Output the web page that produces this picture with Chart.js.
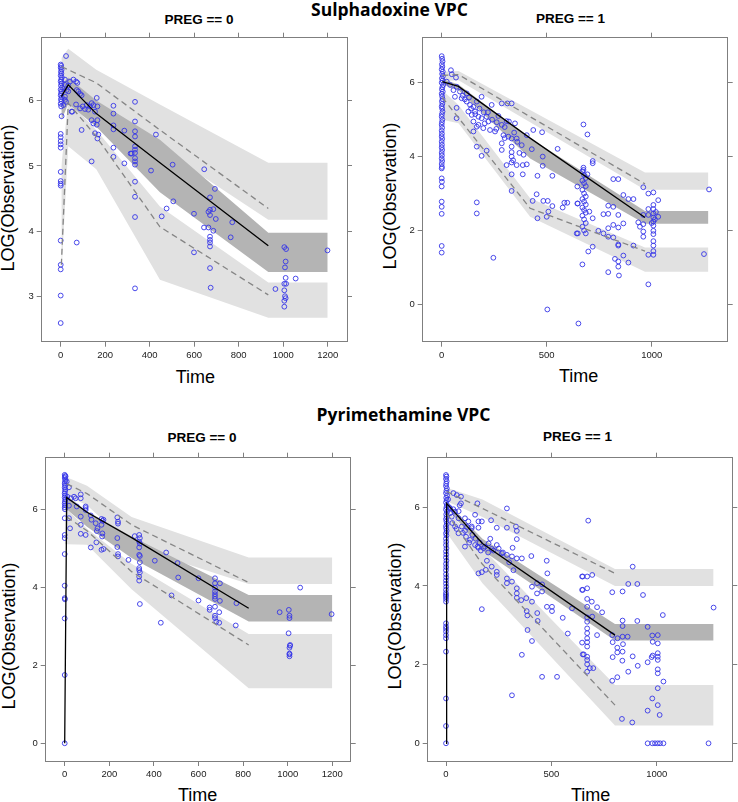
<!DOCTYPE html>
<html><head><meta charset="utf-8">
<script src="https://cdn.jsdelivr.net/npm/chart.js@4.4.1/dist/chart.umd.min.js"></script>
<style>
html,body{margin:0;padding:0;background:#fff;}
body{width:738px;height:802px;position:relative;overflow:hidden;}
canvas{position:absolute;}
.t{position:absolute;transform:translate(-50%,-50%);white-space:nowrap;line-height:1;color:#000;}
.main{font-family:'Open Sans',sans-serif;font-weight:700;font-size:17.5px;}
.sub{font-family:'Liberation Sans',Arial,sans-serif;font-weight:700;font-size:13.5px;}
.ax{font-family:'Liberation Sans',Arial,sans-serif;font-size:18px;}
.rot{transform:translate(-50%,-50%) rotate(-90deg);}
</style></head><body>
<div class="t main" style="left:389.5px;top:9.5px">Sulphadoxine VPC</div>
<div class="t main" style="left:403.5px;top:414.5px">Pyrimethamine VPC</div>
<div class="t sub" style="left:199px;top:20px">PREG == 0</div>
<div class="t sub" style="left:570.5px;top:18.5px">PREG == 1</div>
<div class="t sub" style="left:202px;top:437.5px">PREG == 0</div>
<div class="t sub" style="left:577.5px;top:436.5px">PREG == 1</div>
<div class="t ax" style="left:195.3px;top:376.5px">Time</div>
<div class="t ax" style="left:578.7px;top:375.5px">Time</div>
<div class="t ax" style="left:197.7px;top:794.5px">Time</div>
<div class="t ax" style="left:590.7px;top:794.5px">Time</div>
<div class="t ax rot" style="left:8px;top:197.5px">LOG(Observation)</div>
<div class="t ax rot" style="left:389.8px;top:195.8px">LOG(Observation)</div>
<div class="t ax rot" style="left:8.5px;top:636px">LOG(Observation)</div>
<div class="t ax rot" style="left:394.8px;top:615.8px">LOG(Observation)</div>
<canvas id="c1" width="369" height="400" style="left:0;top:0"></canvas>
<canvas id="c2" width="369" height="400" style="left:369px;top:0"></canvas>
<canvas id="c3" width="369" height="402" style="left:0;top:400px"></canvas>
<canvas id="c4" width="369" height="402" style="left:369px;top:400px"></canvas>
<script>
// ---------- Sulphadoxine, PREG == 0 ----------
const s0XTicks = [0,200,400,600,800,1000,1200];
const s0YTicks = [3,4,5,6];
const s0BandX   = [3, 34, 160, 446, 933, 1200];
const s0PiUpHi  = [6.65, 6.79, 6.47, 5.94, 5.05, 5.05];
const s0PiUpLo  = [6.10, 6.25, 5.95, 5.27, 4.18, 4.18];
const s0PiMedHi = [6.25, 6.35, 6.00, 5.40, 3.98, 3.98];
const s0PiMedLo = [5.70, 5.95, 5.60, 4.60, 3.38, 3.38];
const s0PiLowHi = [5.00, 6.00, 5.55, 4.38, 3.22, 3.22];
const s0PiLowLo = [3.35, 5.30, 4.95, 3.26, 2.68, 2.68];
const s0LineX   = [3, 34, 160, 446, 933];
const s0ObsHi   = [6.52, 6.47, 6.27, 5.55, 4.35];
const s0ObsMed  = [6.06, 6.24, 5.80, 5.05, 3.78];
const s0ObsLo   = [3.49, 5.96, 5.45, 4.07, 3.03];
const s0Obs = [[0,6.55],[2,6.53],[0,6.5],[4,6.47],[1,6.44],[3,6.41],[0,6.38],[5,6.35],[2,6.32],[0,6.29],[4,6.26],[1,6.23],[6,6.2],[0,6.17],[3,6.14],[2,6.11],[0,6.08],[5,6.05],[1,6.02],[3,5.99],[0,5.95],[2,5.91],[4,5.76],[0,5.49],[0,5.44],[0,5.38],[0,5.33],[0,5.28],[0,4.91],[0,4.77],[0,4.73],[0,4.7],[0,3.86],[0,3.49],[0,3.42],[0,3.02],[0,2.6],
[24,6.68],[19,6.32],[42,6.29],[57,6.32],[69,6.29],[19,6.24],[27,6.16],[34,6.14],[19,6.06],[19,6.01],[24,5.98],[12,5.93],[49,5.83],[69,5.94],[72,6.16],[79,6.14],[87,6.1],[94,6.08],[94,5.55],[72,3.83],[34,6.23],[75,6.27],[52,5.83],
[87,5.88],[99,5.91],[109,5.87],[117,5.93],[124,5.86],[132,5.91],[139,5.96],[147,5.93],[162,6.04],[165,5.91],[154,5.83],[139,5.7],[147,5.65],[165,5.7],[162,5.63],[154,5.5],[169,5.48],[165,5.42],[139,5.07],
[237,5.92],[237,5.8],[237,5.56],[237,5.62],[237,5.28],[237,5.14],[286,5.04],[286,5.54],
[334,5.98],[334,5.68],[334,5.53],[334,5.45],[334,5.3],[334,5.25],[334,5.2],[314,5.19],[334,5.12],[334,5.07],[334,5.02],[334,4.76],[334,4.53],[334,4.22],[334,3.13],[319,5.19],
[428,5.48],[406,4.93],[503,5.02],[476,4.35],[506,4.46],[454,4.23],[599,4.27],[599,3.68],
[645,4.95],[693,4.65],[671,4.52],[671,4.33],[686,4.34],[664,4.3],[671,4.25],[697,4.19],[644,4.06],[664,4.06],[686,4.01],[671,3.92],[671,3.87],[671,3.83],[671,3.77],[771,4.14],[764,3.91],[671,3.44],[674,3.14],
[1005,3.76],[1013,3.73],[1011,3.54],[1008,3.45],[1011,3.29],[1005,3.2],[1013,3.2],[1056,3.28],[965,3.12],[1005,3.1],[1008,3.01],[1011,2.98],[1005,2.94],[1005,2.85],[1199,3.71]];

// ---------- Sulphadoxine, PREG == 1 ----------
const s1XTicks = [0,500,1000];
const s1YTicks = [0,2,4,6];
const s1BandX   = [3, 80, 421, 968, 1270];
const s1PiUpHi  = [6.30, 6.32, 5.26, 3.57, 3.57];
const s1PiUpLo  = [6.05, 6.07, 4.93, 3.10, 3.10];
const s1PiMedHi = [6.10, 5.95, 4.50, 2.53, 2.53];
const s1PiMedLo = [5.95, 5.80, 3.95, 2.18, 2.18];
const s1PiLowHi = [5.80, 5.40, 2.87, 1.54, 1.54];
const s1PiLowLo = [5.00, 4.90, 2.37, 0.88, 0.88];
const s1LineX   = [3, 80, 421, 968];
const s1ObsHi   = [6.20, 6.22, 5.08, 3.26];
const s1ObsMed  = [6.03, 5.90, 4.50, 2.35];
const s1ObsLo   = [5.60, 5.05, 2.60, 1.44];
const s1Obs = [[0,6.72],[2,6.65],[4,6.58],[1,6.5],[3,6.43],[0,6.36],[5,6.3],[2,6.24],[6,6.18],[1,6.12],[4,6.06],[0,6.0],[7,5.94],[3,5.88],[1,5.82],[5,5.76],[0,5.7],[2,5.63],[4,5.56],[1,5.5],[3,5.43],[0,5.36],[2,5.3],[4,5.22],[1,5.15],[0,5.08],[3,5.0],[1,4.93],[0,4.86],[2,4.78],[0,4.7],[1,4.62],[0,4.55],[2,4.48],[0,4.4],[1,4.32],[0,4.25],[2,4.18],[0,4.1],[1,4.03],[0,3.95],[2,3.88],[0,3.8],[1,3.72],[0,3.68],[0,3.41],[1,3.32],[0,3.19],[0,2.78],[0,2.64],[0,2.45],[0,1.58],[0,1.4],
[44,6.34],[68,6.14],[48,6.23],[24,6.03],[40,5.94],[71,5.89],[56,5.8],[87,5.76],[119,5.71],[63,5.62],[95,5.58],[71,5.32],[119,5.49],[135,5.4],[151,5.35],[167,5.49],[190,5.62],[127,5.22],[143,5.13],[159,5.22],[175,5.08],[151,4.95],[190,5.04],[214,5.08],[238,5.4],[286,5.44],[313,5.44],[333,5.44],[309,4.96],[349,4.9],[222,4.95],[262,4.93],[286,4.86],[175,4.86],[198,4.77],[230,4.72],[254,4.68],[151,4.68],[167,4.81],[294,4.58],[317,4.54],[333,4.49],[357,4.49],[381,4.31],[405,4.58],[436,4.72],[478,4.66],[552,4.21],[286,4.36],[286,4.18],[190,4.02],[214,4.16],[167,4.27],[333,4.27],[333,4.12],[333,4.0],[333,3.84],[309,3.77],[357,3.77],[386,3.77],[405,3.79],[333,3.52],[386,3.52],[456,3.48],[527,3.48],[429,4.2],[481,4.0],[481,3.75],[71,5.04],[167,2.76],[167,2.46],[246,1.26],[333,3.07],[452,2.98],[433,2.8],[456,2.33],[484,2.8],[505,2.8],[527,2.66],[508,2.51],[500,2.37],[576,2.62],[584,2.75],[598,2.75],[648,2.73],[648,1.92],[503,-0.14],[651,-0.52],
[100,5.65],[110,5.55],[130,5.6],[140,5.3],[160,5.15],[180,5.3],[200,5.2],[205,4.9],[220,5.2],[240,5.0],[260,4.75],[270,5.1],[300,4.8],[320,4.95],[345,4.65],[360,4.4],[370,4.1],[390,4.05],[340,3.9],[300,4.5],
[675,4.87],[694,4.6],[719,3.88],[719,3.82],[675,3.7],[675,3.64],[694,3.52],[670,3.6],[678,3.5],[686,3.42],[670,3.35],[678,3.28],[686,3.2],[670,3.1],[678,3.0],[686,2.92],[670,2.85],[678,2.78],[686,2.7],[670,2.62],[678,2.55],[686,2.48],[670,2.4],[678,2.3],[686,2.2],[670,2.1],[678,2.0],[686,1.92],[646,3.19],[646,2.73],[703,2.51],[719,2.33],[698,1.43],[719,1.56],[670,1.08],[643,1.92],
[817,3.39],[841,3.39],[865,2.96],[889,2.85],[913,2.85],[793,2.67],[817,2.64],[770,2.44],[793,2.45],[841,2.42],[865,2.19],[817,2.15],[841,2.08],[793,2.06],[770,1.92],[746,1.99],[793,1.83],[817,1.81],[841,1.62],[841,1.59],[913,1.59],[865,1.32],[825,1.23],[841,1.16],[841,1.02],[889,1.13],[793,0.87],[844,0.78],
[960,3.17],[984,3.0],[1008,3.03],[1031,2.82],[984,2.58],[1008,2.58],[960,2.42],[984,2.42],[1008,2.46],[1008,2.35],[1031,2.37],[936,2.22],[960,2.17],[1008,2.24],[1008,2.13],[944,2.1],[960,1.97],[1008,1.99],[960,1.83],[1008,1.9],[1008,1.71],[1008,1.59],[1008,1.44],[984,1.34],[1008,1.34],[984,0.54],[1249,1.36],[1273,3.11],[1008,2.69],[1020,2.5],[1015,2.3],[1000,2.2]];

// ---------- Pyrimethamine, PREG == 0 ----------
const p0XTicks = [0,200,400,600,800,1000,1200];
const p0YTicks = [0,2,4,6];
const p0BandX   = [0, 9, 100, 300, 825, 1200];
const p0PiUpHi  = [6.82, 6.82, 6.60, 5.80, 4.76, 4.76];
const p0PiUpLo  = [6.35, 6.35, 6.10, 5.05, 4.08, 4.08];
const p0PiMedHi = [6.35, 6.35, 5.95, 5.30, 3.80, 3.80];
const p0PiMedLo = [6.00, 6.00, 5.55, 4.75, 3.12, 3.12];
const p0PiLowHi = [6.00, 6.00, 5.50, 4.60, 2.80, 2.80];
const p0PiLowLo = [5.10, 5.10, 5.09, 3.95, 1.41, 1.41];
const p0DashX   = [9, 100, 300, 825];
const p0ObsHi   = [6.65, 6.40, 5.60, 4.12];
const p0ObsLo   = [5.80, 5.45, 4.40, 2.52];
const p0MedX    = [0, 9, 100, 300, 825];
const p0ObsMed  = [0, 6.30, 5.92, 5.27, 3.46];
const p0Obs = [[0,6.88],[2,6.85],[0,6.8],[3,6.75],[1,6.7],[0,6.65],[2,6.6],[0,6.55],[3,6.5],[1,6.45],[0,6.4],[2,6.35],[0,6.3],[3,6.25],[1,6.2],[0,6.15],[2,6.1],[0,6.05],[1,6.0],[0,5.77],[0,5.34],[0,5.26],[0,4.85],[0,4.04],[0,3.72],[1,3.69],[0,3.2],[0,1.75],[0,0],
[4,6.84],[9,6.71],[19,6.56],[12,6.32],[27,6.28],[42,6.32],[49,6.28],[72,6.38],[72,6.28],[19,6.09],[54,6.07],[19,5.77],[24,5.51],[72,5.81],[72,5.6],[72,5.37],[94,5.34],[94,6.03],[94,5.98],[94,6.07],[117,5.84],[120,5.73],[139,5.64],[147,5.51],[144,5.44],[165,5.75],[174,5.73],[165,5.6],[169,5.38],[117,5.02],[142,5.15],[165,4.96],[174,4.98],[170,5.7],[168,5.3],
[236,5.79],[239,5.68],[239,5.63],[236,5.26],[236,5.03],[239,4.85],[239,4.79],[286,4.7],[314,5.31],
[334,5.34],[337,5.26],[334,5.17],[337,5.12],[334,5.02],[334,4.83],[337,4.8],[337,4.64],[334,4.49],[334,4.44],[337,4.38],[334,4.27],[334,4.17],[337,3.57],[404,4.68],[455,4.89],[431,3.09],[479,3.79],[506,4.62],[509,4.25],[600,4.23],[600,3.66],
[674,4.23],[696,4.1],[674,4.1],[674,3.99],[674,3.89],[674,3.82],[674,3.76],[674,3.7],[696,3.65],[650,3.48],[650,3.42],[674,3.5],[693,3.36],[674,3.27],[674,3.21],[680,3.12],[693,3.09],[770,3.59],[767,3.02],
[1056,3.99],[964,3.36],[1005,3.42],[1008,3.27],[1008,3.21],[1197,3.31],[1004,2.82],[1011,2.52],[1008,2.45],[1008,2.28],[1008,2.23],[1010,2.5],[1008,2.3]];

// ---------- Pyrimethamine, PREG == 1 ----------
const p1XTicks = [0,500,1000];
const p1YTicks = [0,2,4,6];
const p1BandX   = [0, 3, 173, 802, 1270];
const p1PiUpHi  = [6.50, 6.50, 6.20, 4.43, 4.43];
const p1PiUpLo  = [6.15, 6.15, 5.75, 4.00, 4.00];
const p1PiMedHi = [6.15, 6.15, 5.20, 3.03, 3.03];
const p1PiMedLo = [6.00, 6.00, 4.90, 2.61, 2.61];
const p1PiLowHi = [5.95, 5.95, 4.96, 1.48, 1.48];
const p1PiLowLo = [5.35, 5.35, 4.07, 0.45, 0.45];
const p1DashX   = [3, 173, 802];
const p1ObsHi   = [6.40, 5.97, 4.32];
const p1ObsLo   = [5.85, 4.55, 0.97];
const p1MedX    = [0, 3, 173, 802];
const p1ObsMed  = [0, 6.10, 5.08, 2.75];
const p1Obs = [[0,6.82],[2,6.78],[0,6.72],[3,6.66],[1,6.6],[0,6.54],[4,6.48],[2,6.42],[0,6.36],[5,6.3],[1,6.24],[3,6.18],[0,6.12],[4,6.06],[2,6.0],[0,5.94],[5,5.88],[1,5.82],[3,5.76],[0,5.7],[2,5.64],[4,5.58],[0,5.52],[1,5.46],[3,5.4],[0,5.34],[2,5.28],[0,5.2],[1,5.12],[0,5.04],[2,4.96],[0,4.88],[1,4.8],[0,4.72],[2,4.64],[0,4.56],[1,4.48],[0,4.4],[0,4.3],[1,4.22],[0,4.14],[0,4.06],[1,3.98],[0,3.9],[0,3.82],[0,3.77],[0,3.73],[0,3.67],[0,3.6],[0,3.05],[0,2.97],[0,2.91],[0,2.84],[0,2.75],[0,2.67],[0,2.33],[0,1.14],[0,0.44],[0,0],
[35,6.36],[51,6.31],[71,6.27],[71,6.1],[149,6.1],[19,5.97],[43,5.89],[27,5.76],[59,5.72],[90,5.72],[138,5.81],[43,5.51],[75,5.51],[106,5.64],[122,5.51],[154,5.64],[170,5.64],[59,5.34],[90,5.4],[122,5.47],[154,5.48],[214,5.67],[241,5.48],[289,5.97],[289,5.48],[332,5.51],[336,5.4],[336,5.19],[316,4.97],[90,5.0],[114,5.17],[138,5.04],[154,4.97],[178,4.96],[202,5.08],[217,4.94],[241,5.04],[265,4.83],[289,4.79],[313,4.75],[336,4.7],[360,4.7],[405,4.76],[478,4.64],[194,4.64],[217,4.49],[241,4.36],[241,4.28],[289,4.19],[289,4.07],[154,4.32],[170,4.35],[189,4.41],[313,4.11],[336,3.94],[336,3.81],[336,3.7],[357,3.64],[381,3.69],[408,3.98],[432,4.07],[456,4.04],[456,3.86],[481,4.32],[432,3.81],[479,3.47],[503,3.47],[503,3.36],[408,3.6],[383,3.36],[386,3.25],[433,3.31],[435,3.11],[387,2.88],[408,2.6],[360,2.25],[456,1.69],[527,1.69],[313,1.22],[170,3.41],[554,3.19],[578,2.79],[598,3.43],[649,4.24],[649,3.9],[646,2.56],[649,2.26],
[10,6.2],[15,6.0],[20,5.85],[30,5.6],[35,5.95],[50,5.45],[60,5.9],[65,6.05],[80,5.35],[95,5.25],[100,5.5],[110,5.1],[125,5.3],[140,5.2],[150,5.0],[160,5.1],[165,4.9],[185,5.0],[200,4.85],[210,5.2],[225,4.9],[250,4.95],[270,4.85],[300,4.6],[320,4.4],
[675,5.66],[646,4.24],[670,4.24],[694,4.28],[646,3.9],[670,3.94],[670,3.67],[692,3.6],[670,3.47],[717,3.46],[741,3.33],[670,3.2],[694,3.22],[670,3.09],[670,2.92],[670,2.8],[717,2.75],[670,2.67],[670,2.57],[670,2.46],[654,2.26],[670,2.2],[670,2.12],[670,2.01],[683,1.91],[699,1.91],[670,1.82],
[886,4.49],[865,4.05],[908,4.05],[789,3.84],[838,3.86],[935,3.77],[908,3.11],[838,3.12],[838,2.98],[957,2.96],[789,2.75],[814,2.67],[838,2.71],[862,2.71],[791,2.57],[840,2.52],[813,2.43],[813,2.31],[838,2.33],[791,2.19],[837,2.1],[886,2.21],[910,1.97],[865,1.82],[789,1.59],[813,1.68],[835,0.62],[884,0.53],
[979,2.74],[1005,2.75],[1005,2.54],[981,2.58],[1029,3.26],[957,2.06],[976,2.19],[981,2.23],[1005,2.29],[1005,2.2],[1005,2.12],[1005,1.88],[1005,1.78],[1005,1.4],[1032,1.57],[979,1.14],[957,0.83],[1005,0.97],[1014,0.72],[957,0],[979,0],[992,0],[1005,0],[1016,0],[1032,0],[1246,0],[1270,3.45]];

// ---------- rendering ----------
const LIGHT = '#e1e1e1', DARK = '#b4b4b4', BLUE = '#3535e8', FRAME = '#7f7f7f';
const FONT = "'Liberation Sans', Arial, sans-serif";

function series(xs, ys, extra) {
  return Object.assign({
    type: 'line', data: xs.map((x, i) => ({x: x, y: ys[i]})),
    pointRadius: 0, pointHoverRadius: 0, tension: 0, fill: false
  }, extra);
}
const edge = (o) => Object.assign({borderWidth: 0, borderColor: 'rgba(0,0,0,0)'}, o);

function panel(id, p) {
  const W = p.W, H = p.H, A = p.area;
  const axis = (pos, labels, min, max, ticks) => ({
    type: 'linear', position: pos, min: min, max: max,
    afterBuildTicks: s => { s.ticks = ticks.map(v => ({value: v})); },
    afterFit: s => {
      if (pos === 'bottom') s.height = H - A.B;
      else if (pos === 'top') s.height = A.T;
      else if (pos === 'left') s.width = A.L;
      else s.width = W - A.R;
    },
    ticks: {display: labels, font: {family: FONT, size: 9.5}, color: '#222',
            padding: 3, maxRotation: 0, autoSkip: false, callback: v => String(v)},
    grid: {drawOnChartArea: false, drawTicks: true, tickLength: 5, color: FRAME, lineWidth: 1},
    border: {display: true, color: FRAME, width: 1}
  });
  const datasets = [
    series(p.bx, p.upHi, edge({fill: '+1', backgroundColor: LIGHT, order: 10})),
    series(p.bx, p.upLo, edge({order: 10})),
    series(p.bx, p.lowHi, edge({fill: '+1', backgroundColor: LIGHT, order: 10})),
    series(p.bx, p.lowLo, edge({order: 10})),
    series(p.bx, p.medHi, edge({fill: '+1', backgroundColor: DARK, order: 9})),
    series(p.bx, p.medLo, edge({order: 9})),
    {type: 'scatter', data: p.obs.map(o => ({x: o[0], y: o[1]})), pointStyle: 'circle',
     pointRadius: 2.4, pointHoverRadius: 2.4, pointBorderWidth: 0.9, borderWidth: 0.9,
     pointBorderColor: BLUE, borderColor: BLUE,
     pointBackgroundColor: 'rgba(0,0,0,0)', backgroundColor: 'rgba(0,0,0,0)', order: 5},
    series(p.dx, p.hi, {borderColor: '#858585', borderWidth: 1.3, borderDash: [6, 4], order: 2}),
    series(p.dx, p.lo, {borderColor: '#858585', borderWidth: 1.3, borderDash: [6, 4], order: 2}),
    series(p.mx, p.med, {borderColor: '#000', borderWidth: 1.3, order: 1})
  ];
  new Chart(document.getElementById(id), {
    type: 'scatter',
    data: {datasets: datasets},
    options: {
      responsive: false, animation: false, devicePixelRatio: 1, events: [],
      layout: {padding: 0},
      plugins: {legend: {display: false}, tooltip: {enabled: false}, title: {display: false}},
      scales: {
        x: axis('bottom', true, p.xr[0], p.xr[1], p.xt),
        x2: axis('top', false, p.xr[0], p.xr[1], p.xt),
        y: axis('left', true, p.yr[0], p.yr[1], p.yt),
        y2: axis('right', false, p.yr[0], p.yr[1], p.yt)
      }
    }
  });
}

panel('c1', {W: 369, H: 400, area: {L: 41.7, T: 37.7, R: 347, B: 341.7},
  xr: [-85.4, 1286.7], yr: [2.315, 6.96], xt: s0XTicks, yt: s0YTicks,
  bx: s0BandX, upHi: s0PiUpHi, upLo: s0PiUpLo, medHi: s0PiMedHi, medLo: s0PiMedLo, lowHi: s0PiLowHi, lowLo: s0PiLowLo,
  dx: s0LineX, hi: s0ObsHi, lo: s0ObsLo, mx: s0LineX, med: s0ObsMed, obs: s0Obs});
panel('c2', {W: 369, H: 400, area: {L: 53.7, T: 37.7, R: 358.7, B: 341.7},
  xr: [-90.5, 1361.9], yr: [-1.013, 7.22], xt: s1XTicks, yt: s1YTicks,
  bx: s1BandX, upHi: s1PiUpHi, upLo: s1PiUpLo, medHi: s1PiMedHi, medLo: s1PiMedLo, lowHi: s1PiLowHi, lowLo: s1PiLowLo,
  dx: s1LineX, hi: s1ObsHi, lo: s1ObsLo, mx: s1LineX, med: s1ObsMed, obs: s1Obs});
panel('c3', {W: 369, H: 402, area: {L: 45.7, T: 57.7, R: 350.7, B: 361},
  xr: [-85.2, 1282.5], yr: [-0.454, 7.32], xt: p0XTicks, yt: p0YTicks,
  bx: p0BandX, upHi: p0PiUpHi, upLo: p0PiUpLo, medHi: p0PiMedHi, medLo: p0PiMedLo, lowHi: p0PiLowHi, lowLo: p0PiLowLo,
  dx: p0DashX, hi: p0ObsHi, lo: p0ObsLo, mx: p0MedX, med: p0ObsMed, obs: p0Obs});
panel('c4', {W: 369, H: 402, area: {L: 58.7, T: 57.7, R: 363.3, B: 361},
  xr: [-86.9, 1358.8], yr: [-0.45, 7.26], xt: p1XTicks, yt: p1YTicks,
  bx: p1BandX, upHi: p1PiUpHi, upLo: p1PiUpLo, medHi: p1PiMedHi, medLo: p1PiMedLo, lowHi: p1PiLowHi, lowLo: p1PiLowLo,
  dx: p1DashX, hi: p1ObsHi, lo: p1ObsLo, mx: p1MedX, med: p1ObsMed, obs: p1Obs});
</script>
</body></html>
